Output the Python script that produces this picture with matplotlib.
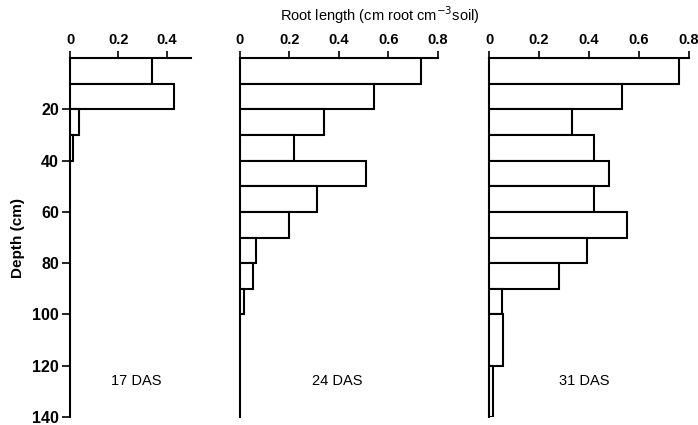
import matplotlib.pyplot as plt

plt.rcParams['font.family'] = ['Liberation Sans', 'DejaVu Sans']

# Root length density per soil layer (cm root cm-3 soil); edges are layer depths in cm
das17_edges = [0, 10, 20, 30, 40]
das17_vals = [0.34, 0.43, 0.037, 0.012]

das24_edges = [0, 10, 20, 30, 40, 50, 60, 70, 80, 90, 100]
das24_vals = [0.73, 0.54, 0.34, 0.22, 0.51, 0.31, 0.20, 0.065, 0.053, 0.017]

das31_edges = [0, 10, 20, 30, 40, 50, 60, 70, 80, 90, 100, 120, 140]
das31_vals = [0.76, 0.53, 0.33, 0.42, 0.48, 0.42, 0.55, 0.39, 0.28, 0.05, 0.055, 0.015]

panels = [
    ("17 DAS", das17_edges, das17_vals, 0.5, [0, 0.2, 0.4], ["0", "0.2", "0.4"], 0.55),
    ("24 DAS", das24_edges, das24_vals, 0.8, [0, 0.2, 0.4, 0.6, 0.8],
     ["0", "0.2", "0.4", "0.6", "0.8"], 0.49),
    ("31 DAS", das31_edges, das31_vals, 0.8, [0, 0.2, 0.4, 0.6, 0.8],
     ["0", "0.2", "0.4", "0.6", "0.8"], 0.475),
]

fig = plt.figure(figsize=(6.98, 4.25), dpi=100)
boxes = [[0.1003, 0.0188, 0.1734, 0.8447],
         [0.3438, 0.0188, 0.2837, 0.8447],
         [0.7006, 0.0188, 0.2865, 0.8447]]

for i, (name, edges, vals, xmax, ticks, ticklabels, label_x) in enumerate(panels):
    ax = fig.add_axes(boxes[i])
    tops = edges[:-1]
    heights = [b - a for a, b in zip(edges[:-1], edges[1:])]
    ax.barh(tops, vals, height=heights, align='edge', color='white',
            edgecolor='black', linewidth=1.5, zorder=3)
    ax.set_xlim(0, xmax)
    ax.set_ylim(140, 0)
    ax.xaxis.tick_top()
    ax.set_xticks(ticks)
    ax.set_xticklabels(ticklabels, fontsize=10.5, fontweight='bold')
    ax.tick_params(axis='x', direction='out', length=5, width=1.2, pad=3)
    for side in ['right', 'bottom']:
        ax.spines[side].set_visible(False)
    ax.spines['top'].set_linewidth(1.5)
    ax.spines['left'].set_linewidth(1.5)
    if i == 0:
        ax.set_yticks([20, 40, 60, 80, 100, 120, 140])
        ax.set_yticklabels(['20', '40', '60', '80', '100', '120', '140'],
                           fontsize=11.5, fontweight='bold')
        ax.tick_params(axis='y', direction='out', length=6, width=1.2, pad=2)
        ax.set_ylabel("Depth (cm)", fontsize=11, fontweight='bold', labelpad=5)
    else:
        ax.set_yticks([])
    ax.text(label_x, 126, name, fontsize=10.5, transform=ax.get_yaxis_transform(),
            ha='center', va='center')

fig.text(0.544, 0.965, r"Root length (cm root cm$^{-3}$soil)", fontsize=10.5,
         ha='center', va='center')

fig.savefig("out.png", dpi=100)
